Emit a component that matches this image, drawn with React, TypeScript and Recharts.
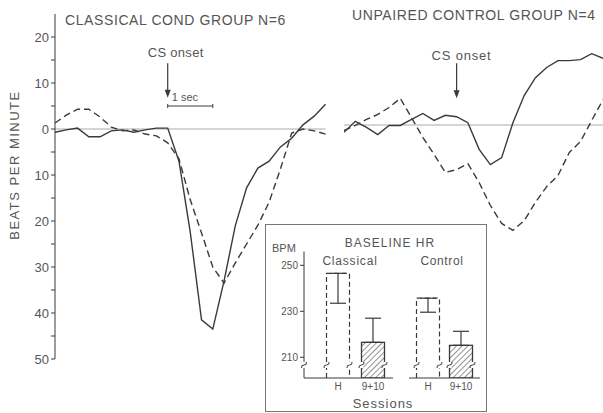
import React from "react";
import {
  LineChart,
  Line,
  XAxis,
  YAxis,
  ReferenceLine,
  BarChart,
  Bar,
  ErrorBar,
} from "recharts";

// time in seconds relative to CS onset
const condTime = [-2.5, -2.25, -2, -1.75, -1.5, -1.25, -1, -0.75, -0.5, -0.25, 0, 0.25, 0.5, 0.75, 1, 1.25, 1.5, 1.75, 2, 2.25, 2.5, 2.75, 3, 3.25, 3.5];
const condSolid = [-0.7, -0.2, 0.2, -1.7, -1.7, -0.4, -0.2, -0.7, -0.2, 0.2, 0.2, -7, -22.4, -41.5, -43.5, -33, -21, -12.8, -8.5, -7, -3.9, -2, 0.9, 2.8, 5.4];
const condDashed = [1.3, 3, 4.3, 4.3, 2.6, 0.4, -0.4, -0.2, -1.1, -1.5, -3, -6.5, -15.4, -22.6, -30, -33.5, -29.1, -25, -20.9, -15.9, -8.7, -0.9, 0, -0.4, -1.1];

const ctrlTime = [-2.5, -2.25, -2, -1.75, -1.5, -1.25, -1, -0.75, -0.5, -0.25, 0, 0.25, 0.5, 0.75, 1, 1.25, 1.5, 1.75, 2, 2.25, 2.5, 2.75, 3, 3.25];
const ctrlSolid = [-1.6, 0.8, -0.5, -2.1, -0.1, -0.1, 1.2, 2.5, 1, 2.1, 1.8, 0.5, -5.3, -8.6, -7.1, 0.5, 6.4, 10.3, 12.5, 14, 14, 14.2, 15.5, 14.5];
const ctrlDashed = [-1.2, -0.1, 1.2, 2.3, 3.8, 5.8, 1.6, -2.7, -6.4, -10.3, -9.7, -8.4, -12.5, -17.5, -21.4, -22.9, -20.8, -16.8, -13.4, -11, -6, -3.6, 1, 5.5];

const bpmTicks = [-50, -45, -40, -35, -30, -25, -20, -15, -10, -5, 0, 5, 10, 15, 20];

// inset: baseline heart rate
const sessions = ["H", "9+10"];
const classicalHR = [246.5, 216.5];
const classicalErr: [number, number][] = [[13, 0], [0, 10.5]];
const controlHR = [235.7, 215.2];
const controlErr: [number, number][] = [[6.1, 0], [0, 6.1]];
const hrTicks = [210, 230, 250];

const FONT = '"Liberation Sans", Arial, sans-serif';
const INK = "#3a3a3a";
const TEXT = "#555";

const condRows = condTime.map((t, i) => ({ t, solid: condSolid[i], dashed: condDashed[i] }));
const ctrlRows = ctrlTime.map((t, i) => ({ t, solid: ctrlSolid[i], dashed: ctrlDashed[i] }));
const classicalRows = sessions.map((s, i) => ({ session: s, hr: classicalHR[i], err: classicalErr[i] }));
const controlRows = sessions.map((s, i) => ({ session: s, hr: controlHR[i], err: controlErr[i] }));

const onsetArrow = (dx: number, dy: number, spacing: number) => (p: any) => {
  const { x1, y1, x2, y2 } = p;
  return (
    <g>
      <text x={x1 + dx} y={y1 + dy} fontSize={13} fill={TEXT} fontFamily={FONT} letterSpacing={spacing}>
        CS onset
      </text>
      <line x1={x1} y1={y1} x2={x2} y2={y2 - 6} stroke={INK} strokeWidth={1.2} />
      <path d={`M${x2 - 3},${y2 - 8} L${x2 + 3},${y2 - 8} L${x2},${y2} Z`} fill={INK} />
    </g>
  );
};

const secBar = (p: any) => {
  const { x1, y1, x2 } = p;
  return (
    <g stroke={INK} strokeWidth={1}>
      <line x1={x1} y1={y1} x2={x2} y2={y1} />
      <line x1={x1} y1={y1 - 2} x2={x1} y2={y1 + 2} />
      <line x1={x2} y1={y1 - 2} x2={x2} y2={y1 + 2} />
      <text x={x1 + 4} y={y1 - 5} fontSize={11} fill={TEXT} stroke="none" fontFamily={FONT}>
        1 sec
      </text>
    </g>
  );
};

const breakMark = (cx: number, cy: number, key: string) => (
  <g key={key}>
    <rect x={cx - 2} y={cy - 3} width={4} height={6} fill="#fff" />
    <path d={`M${cx - 2.5},${cy + 3} Q${cx - 3},${cy} ${cx},${cy} Q${cx + 3},${cy} ${cx + 2.5},${cy - 3}`} fill="none" stroke={INK} strokeWidth={1} />
  </g>
);

const SessionBar = (p: any) => {
  const { x, y, width, height, payload } = p;
  const bottom = y + height;
  const brk = bottom - 13;
  if (payload.session === "H") {
    return (
      <g>
        <path
          d={`M${x},${bottom} V${y} H${x + width} V${bottom}`}
          fill="none"
          stroke={INK}
          strokeWidth={1.2}
          strokeDasharray="5 3"
        />
        {breakMark(x, brk, "a")}
        {breakMark(x + width, brk, "b")}
      </g>
    );
  }
  return (
    <g>
      <rect x={x} y={y} width={width} height={height} fill="url(#hatch)" stroke={INK} strokeWidth={1.3} />
      {breakMark(x, brk, "a")}
      {breakMark(x + width, brk, "b")}
    </g>
  );
};

const hatchDefs = (
  <defs>
    <pattern id="hatch" patternUnits="userSpaceOnUse" width={4} height={4} patternTransform="rotate(45)">
      <line x1={0} y1={0} x2={0} y2={4} stroke={INK} strokeWidth={1.1} />
    </pattern>
  </defs>
);

const trace = (key: string, dashed: boolean) => (
  <Line
    key={key}
    dataKey={key}
    type="linear"
    stroke={INK}
    strokeWidth={1.4}
    strokeDasharray={dashed ? "7 4" : undefined}
    dot={false}
    activeDot={false}
    isAnimationActive={false}
  />
);

export default function App() {
  return (
    <div
      style={{
        position: "absolute",
        left: 0,
        top: 0,
        width: 603,
        height: 413,
        overflow: "hidden",
        background: "#fff",
        fontFamily: FONT,
      }}
    >
      {/* classical conditioning group */}
      <div style={{ position: "absolute", left: 0, top: 0 }}>
        <LineChart width={330} height={413} data={condRows} margin={{ top: 14, right: 4.5, bottom: 54, left: 0 }}>
          <XAxis dataKey="t" type="number" domain={[-2.5, 3.5]} hide />
          <YAxis
            domain={[-50, 25]}
            ticks={bpmTicks}
            interval={0}
            width={55}
            tickSize={4}
            tickFormatter={(v: number) => (v % 10 === 0 ? String(Math.abs(v)) : "")}
            tick={{ fontSize: 13, fill: TEXT, fontFamily: FONT }}
            axisLine={{ stroke: INK }}
            tickLine={{ stroke: INK }}
          />
          <ReferenceLine y={0} stroke="#aaa" strokeWidth={1} />
          <ReferenceLine segment={[{ x: 0, y: 14.3 }, { x: 0, y: 6.8 }]} shape={onsetArrow(-20, -6.5, 0.3)} />
          <ReferenceLine segment={[{ x: 0, y: 5 }, { x: 1, y: 5 }]} shape={secBar} />
          {trace("solid", false)}
          {trace("dashed", true)}
        </LineChart>
      </div>

      {/* unpaired control group */}
      <div style={{ position: "absolute", left: 344, top: 9.5 }}>
        <LineChart width={259} height={345} data={ctrlRows} margin={{ top: 0, right: 0, bottom: 0, left: 0 }}>
          <XAxis dataKey="t" type="number" domain={[-2.5, 3.25]} hide />
          <YAxis domain={[-50, 25]} hide />
          <ReferenceLine y={0} stroke="#aaa" strokeWidth={1} />
          <ReferenceLine segment={[{ x: 0, y: 13.4 }, { x: 0, y: 5.8 }]} shape={onsetArrow(-25, -3.5, 0.8)} />
          {trace("solid", false)}
          {trace("dashed", true)}
        </LineChart>
      </div>

      {/* inset: baseline HR */}
      <div
        style={{
          position: "absolute",
          left: 265,
          top: 224,
          width: 222,
          height: 188,
          border: "1px solid #777",
          boxSizing: "border-box",
          background: "#fff",
        }}
      />
      <div style={{ position: "absolute", left: 254, top: 244 }}>
        <BarChart width={141} height={150} data={classicalRows} margin={{ top: 7.5, right: 2, bottom: 0, left: 0 }}>
          {hatchDefs}
          <XAxis
            dataKey="session"
            height={16}
            padding={{ left: 16.5, right: 2.5 }}
            tickLine={false}
            tickSize={0}
            tickMargin={5}
            tick={{ fontSize: 10, fill: TEXT, fontFamily: FONT }}
            axisLine={{ stroke: INK }}
          />
          <YAxis
            domain={[201, 256]}
            allowDataOverflow
            ticks={hrTicks}
            interval={0}
            width={50}
            tickSize={4}
            tick={{ fontSize: 10, fill: TEXT, fontFamily: FONT }}
            axisLine={{ stroke: INK }}
            tickLine={{ stroke: INK }}
          />
          <Bar dataKey="hr" barSize={23} shape={SessionBar} isAnimationActive={false}>
            <ErrorBar dataKey="err" width={8} stroke={INK} strokeWidth={1.2} direction="y" />
          </Bar>
        </BarChart>
      </div>
      <div style={{ position: "absolute", left: 405, top: 244 }}>
        <BarChart width={77} height={150} data={controlRows} margin={{ top: 7.5, right: 2, bottom: 0, left: 4 }}>
          {hatchDefs}
          <XAxis
            dataKey="session"
            height={16}
            padding={{ left: 2.5, right: 2.5 }}
            tickLine={false}
            tickSize={0}
            tickMargin={5}
            tick={{ fontSize: 10, fill: TEXT, fontFamily: FONT }}
            axisLine={{ stroke: INK }}
          />
          <YAxis domain={[201, 256]} allowDataOverflow hide />
          <Bar dataKey="hr" barSize={23} shape={SessionBar} isAnimationActive={false}>
            <ErrorBar dataKey="err" width={8} stroke={INK} strokeWidth={1.2} direction="y" />
          </Bar>
        </BarChart>
      </div>

      {/* titles and labels */}
      <svg width={603} height={413} style={{ position: "absolute", left: 0, top: 0, pointerEvents: "none" }}>
        <g fontFamily={FONT} fill={TEXT}>
          <text x={65} y={25} fontSize={14} letterSpacing={0.6}>
            CLASSICAL COND GROUP N=6
          </text>
          <text x={352} y={20} fontSize={14} letterSpacing={0.6}>
            UNPAIRED CONTROL GROUP N=4
          </text>
          <text
            x={18.5}
            y={165}
            fontSize={13}
            letterSpacing={1.5}
            textAnchor="middle"
            transform="rotate(-90 18.5 165)"
          >
            BEATS PER MINUTE
          </text>
          <text x={390} y={246.5} fontSize={12} letterSpacing={1} textAnchor="middle">
            BASELINE HR
          </text>
          <text x={272} y={252} fontSize={11}>
            BPM
          </text>
          <text x={350} y={264.5} fontSize={12} letterSpacing={0.8} textAnchor="middle">
            Classical
          </text>
          <text x={442} y={264.5} fontSize={12} letterSpacing={0.6} textAnchor="middle">
            Control
          </text>
          <text x={383} y={408} fontSize={13} letterSpacing={1} textAnchor="middle">
            Sessions
          </text>
        </g>
        {breakMark(304, 365, "axis")}
      </svg>
    </div>
  );
}
